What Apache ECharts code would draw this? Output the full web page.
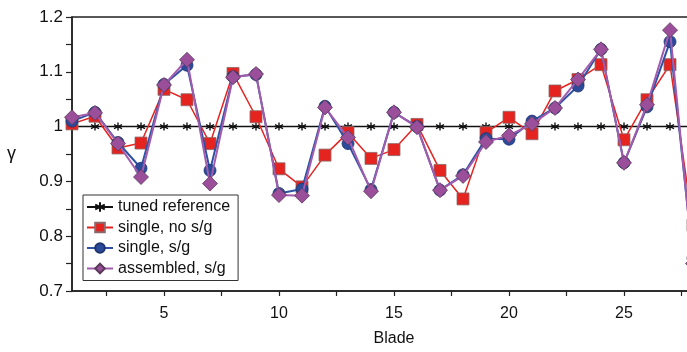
<!DOCTYPE html>
<html>
<head>
<meta charset="utf-8">
<script src="https://cdn.jsdelivr.net/npm/echarts@6/dist/echarts.min.js"></script>
<style>
  html, body { margin: 0; padding: 0; background: #fff; overflow: hidden; }
  /* plot runs past the right edge of the window, like the cropped original */
  #chart { width: 716px; height: 352px; }
</style>
</head>
<body>
<div id="chart"></div>
<script>
// blade numbers
const blades = [1, 2, 3, 4, 5, 6, 7, 8, 9, 10, 11, 12, 13, 14, 15, 16, 17, 18, 19, 20, 21, 22, 23, 24, 25, 26, 27, 28];
const tunedRef = [1, 1, 1, 1, 1, 1, 1, 1, 1, 1, 1, 1, 1, 1, 1, 1, 1, 1, 1, 1, 1, 1, 1, 1, 1, 1, 1, 1];
const singleNoSg = [1.005, 1.019, 0.961, 0.970, 1.068, 1.049, 0.969, 1.097, 1.018, 0.923, 0.890, 0.948, 0.989, 0.942,
  0.958, 1.004, 0.920, 0.868, 0.989, 1.017, 0.987, 1.065, 1.086, 1.113, 0.976, 1.049, 1.113, 0.82];
const singleSg = [1.010, 1.026, 0.971, 0.924, 1.077, 1.112, 0.920, 1.091, 1.095, 0.878, 0.886, 1.037, 0.969, 0.885,
  1.026, 1.000, 0.884, 0.912, 0.978, 0.977, 1.010, 1.034, 1.074, 1.141, 0.934, 1.036, 1.155, 0.76];
const assembledSg = [1.017, 1.025, 0.969, 0.908, 1.076, 1.122, 0.896, 1.090, 1.096, 0.875, 0.874, 1.035, 0.980, 0.882,
  1.026, 0.999, 0.884, 0.910, 0.972, 0.984, 1.005, 1.034, 1.086, 1.141, 0.934, 1.040, 1.176, 0.75];

// tick positions
const xTicks = [2.5, 5, 7.5, 10, 12.5, 15, 17.5, 20, 22.5, 25, 27.5];
const xLabels = [5, 10, 15, 20, 25];
const yTicks = [0.7, 0.75, 0.8, 0.85, 0.9, 0.95, 1, 1.05, 1.1, 1.15, 1.2];
const yLabels = [0.7, 0.8, 0.9, 1, 1.1, 1.2];

const FONT = 'Liberation Sans, Arial, sans-serif';
const asterisk = 'path://M0,-10L0,10M-8.66,-5L8.66,5M-8.66,5L8.66,-5';

const pairs = (ys) => blades.map((b, i) => [b, ys[i]]);

const chart = echarts.init(document.getElementById('chart'));
const option = {
  animation: false,
  textStyle: { fontFamily: FONT },
  grid: {
    left: 72,
    right: 0,
    top: 17,
    bottom: 57,
    show: true,
    borderColor: '#222',
    borderWidth: 1.5,
  },
  legend: {
    orient: 'vertical',
    left: 83,
    top: 195,
    itemWidth: 26,
    itemHeight: 12,
    itemGap: 4.5,
    padding: [4, 8, 4, 3],
    borderColor: '#333',
    borderWidth: 1,
    backgroundColor: '#fff',
    textStyle: { fontFamily: FONT, fontSize: 16, color: '#111' },
    data: ['tuned reference', 'single, no s/g', 'single, s/g', 'assembled, s/g'],
  },
  xAxis: {
    type: 'value',
    min: 1,
    max: 29,
    name: 'Blade',
    nameLocation: 'middle',
    nameGap: 40,
    nameTextStyle: { fontFamily: FONT, fontSize: 16, color: '#111' },
    axisLine: { lineStyle: { color: '#222', width: 1.5 } },
    axisTick: { customValues: xTicks, length: 5, lineStyle: { color: '#222', width: 1.2 } },
    axisLabel: { customValues: xLabels, margin: 15, fontFamily: FONT, fontSize: 16, color: '#111' },
    splitLine: { show: false },
  },
  yAxis: {
    type: 'value',
    min: 0.7,
    max: 1.2,
    name: 'γ',
    nameLocation: 'middle',
    nameRotate: 0,
    nameGap: 56,
    nameTextStyle: { fontFamily: FONT, fontSize: 18, color: '#111' },
    axisLine: { lineStyle: { color: '#222', width: 1.5 } },
    axisTick: { customValues: yTicks, length: 6, lineStyle: { color: '#222', width: 1.2 } },
    axisLabel: { customValues: yLabels, margin: 9, fontFamily: FONT, fontSize: 17, color: '#111' },
    splitLine: { show: false },
  },
  series: [
    {
      name: 'tuned reference',
      type: 'line',
      data: pairs(tunedRef),
      symbol: asterisk,
      symbolSize: 8,
      lineStyle: { color: '#111', width: 1.5 },
      itemStyle: { color: 'transparent', borderColor: '#111', borderWidth: 1.4 },
      z: 2,
    },
    {
      name: 'single, no s/g',
      type: 'line',
      data: pairs(singleNoSg),
      symbol: 'rect',
      symbolSize: 12,
      lineStyle: { color: '#e5231f', width: 1.5 },
      itemStyle: { color: '#e5231f', borderColor: '#8a6a6a', borderWidth: 0.8 },
      z: 3,
    },
    {
      name: 'single, s/g',
      type: 'line',
      data: pairs(singleSg),
      symbol: 'circle',
      symbolSize: 12,
      lineStyle: { color: '#2f52a4', width: 2 },
      itemStyle: { color: '#2b4a9a', borderColor: '#1d3470', borderWidth: 0.8 },
      z: 4,
    },
    {
      name: 'assembled, s/g',
      type: 'line',
      data: pairs(assembledSg),
      symbol: 'diamond',
      symbolSize: [15, 15],
      lineStyle: { color: '#a35cad', width: 2 },
      itemStyle: { color: '#9b4f9b', borderColor: '#5a3a5a', borderWidth: 0.8 },
      z: 5,
    },
  ],
};
chart.setOption(option);
</script>
</body>
</html>
